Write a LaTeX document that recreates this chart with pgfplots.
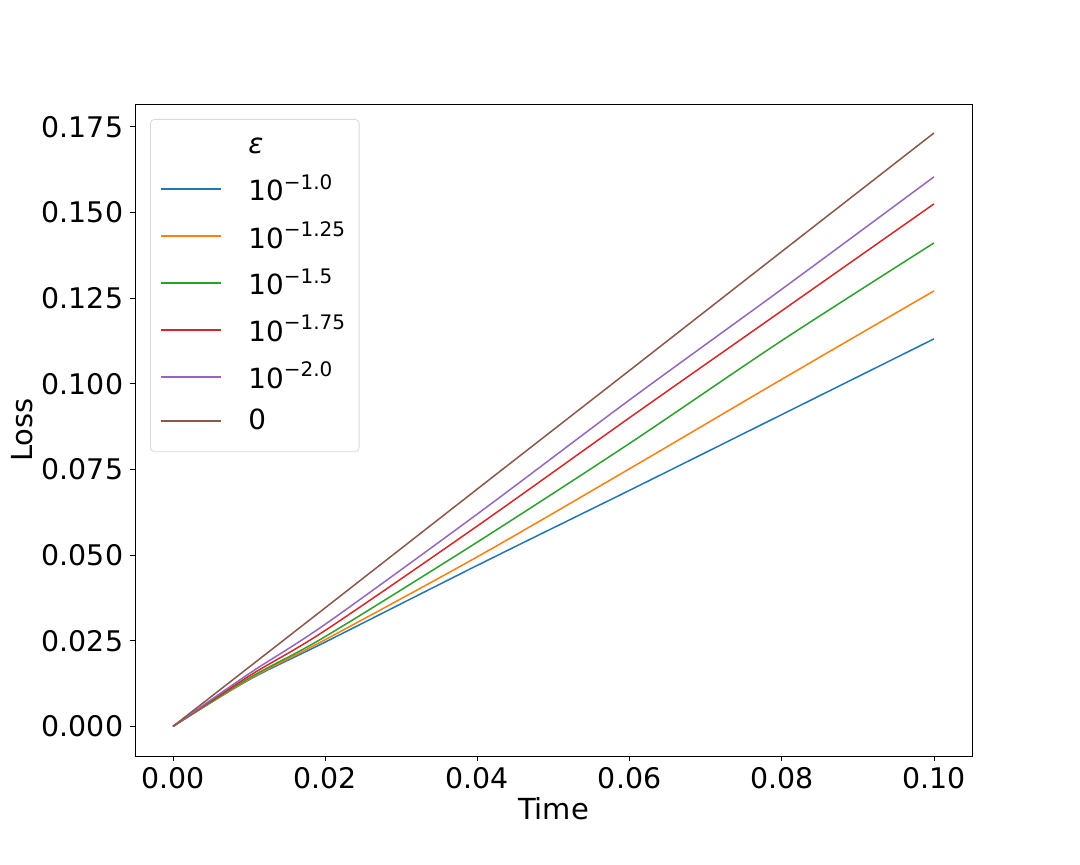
\documentclass[border=0pt]{standalone}
\usepackage{pgfplots}
\pgfplotsset{compat=1.18}
\usepackage{fontspec}
\setmainfont{DejaVu Sans}
\definecolor{c1}{HTML}{1F77B4}
\definecolor{c2}{HTML}{FF7F0E}
\definecolor{c3}{HTML}{2CA02C}
\definecolor{c4}{HTML}{D62728}
\definecolor{c5}{HTML}{9467BD}
\definecolor{c6}{HTML}{8C564B}
\newcommand{\supx}[1]{\raisebox{0.42em}{\fontsize{10}{10}\selectfont #1}}
\begin{document}
\begin{tikzpicture}
\useasboundingbox (-67.5pt,-54pt) rectangle (472.5pt,378pt);
\begin{axis}[
  at={(0,0)}, anchor=south west,
  scale only axis, width=418.5pt, height=326pt,
  xmin=-0.005, xmax=0.105, ymin=-0.00866, ymax=0.18166,
  xtick={0,0.02,0.04,0.06,0.08,0.1},
  ytick={0,0.025,0.05,0.075,0.1,0.125,0.15,0.175},
  xticklabel style={/pgf/number format/.cd,fixed,fixed zerofill,precision=2},
  yticklabel style={/pgf/number format/.cd,fixed,fixed zerofill,precision=3},
  /pgf/number format/assume math mode=true,
  ticklabel style={font=\fontsize{14.2}{16}\selectfont},
  label style={font=\fontsize{14.5}{17}\selectfont},
  xlabel={Time}, ylabel={Loss},
  xlabel style={at={(0.5,0)}, anchor=north, yshift=-17pt},
  ylabel style={at={(0,0.5)}, anchor=south, yshift=47.5pt},
  tick align=outside, major tick length=2.4pt,
  xtick pos=bottom, ytick pos=left,
  axis line style={line width=0.4pt},
  every tick/.style={black, line width=0.4pt},
  tick label style={black},
  legend style={at={(0.018,0.977)}, anchor=north west, draw=black!15, rounded corners=2pt,
    font=\fontsize{13.9}{16}\selectfont, row sep=4.75pt, column sep=11pt,
    inner xsep=5pt, inner ysep=7.5pt},
  legend cell align=left,
  legend image code/.code={\draw[#1, line width=1pt] (0pt,0pt) -- (30pt,0pt);},
  every axis plot/.append style={line width=0.75pt},
]
\addlegendimage{empty legend}
\addlegendentry{\rule[-8.5pt]{0pt}{8.5pt}\textit{ε}}
\addplot[c1, smooth, tension=0.5] coordinates {(0,0) (0.01,0.0136) (0.02,0.0246) (0.04,0.0470) (0.06,0.0689) (0.08,0.0910) (0.1,0.1131)};
\addlegendentry{10\supx{−1.0}}
\addplot[c2, smooth, tension=0.5] coordinates {(0,0) (0.01,0.0138) (0.02,0.0253) (0.04,0.0495) (0.06,0.0752) (0.08,0.1013) (0.1,0.1271)};
\addlegendentry{10\supx{−1.25}}
\addplot[c3, smooth, tension=0.5] coordinates {(0,0) (0.01,0.0141) (0.02,0.0262) (0.04,0.0538) (0.06,0.0826) (0.08,0.1126) (0.1,0.1411)};
\addlegendentry{10\supx{−1.5}}
\addplot[c4, smooth, tension=0.5] coordinates {(0,0) (0.01,0.0147) (0.02,0.0280) (0.04,0.0585) (0.06,0.0901) (0.08,0.1213) (0.1,0.1525)};
\addlegendentry{10\supx{−1.75}}
\addplot[c5, smooth, tension=0.5] coordinates {(0,0) (0.01,0.0154) (0.02,0.0298) (0.04,0.0620) (0.06,0.0953) (0.08,0.1276) (0.1,0.1604)};
\addlegendentry{10\supx{−2.0}}
\addplot[c6] coordinates {(0,0) (0.01,0.0173) (0.02,0.0346) (0.04,0.0693) (0.06,0.1039) (0.08,0.1386) (0.1,0.1732)};
\addlegendentry{0}
\end{axis}
\end{tikzpicture}
\end{document}
